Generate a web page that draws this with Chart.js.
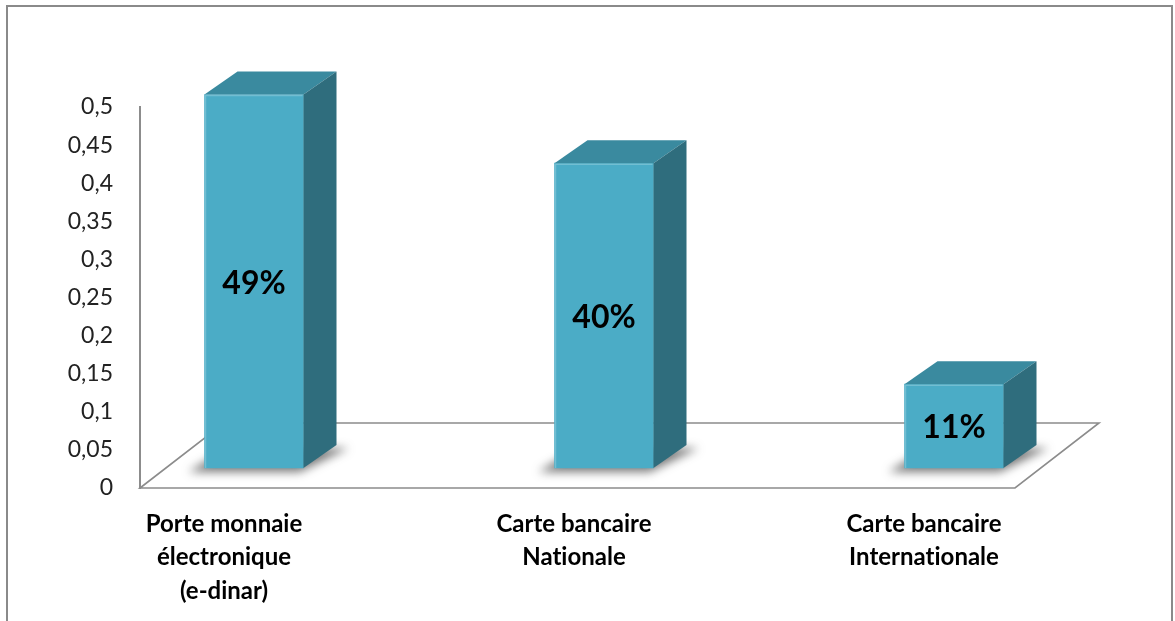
<!DOCTYPE html>
<html lang="fr">
<head>
<meta charset="utf-8">
<title>Moyens de paiement</title>
<script src="https://cdn.jsdelivr.net/npm/chart.js@4.4.0/dist/chart.umd.min.js"></script>
<style>
  html, body { margin: 0; padding: 0; background: #fff; }
  #cadre { position: relative; width: 1175px; height: 621px; }
</style>
</head>
<body>
<div id="cadre"><canvas id="paiementChart"></canvas></div>
<script>
// Données du graphique (\u200c évite la ligature « ti » de la police)
const moyens = [
    ['Porte monnaie', 'électronique', '(e-dinar)'],
    ['Carte bancaire', 'Nat\u200cionale'],
    ['Carte bancaire', 'Internat\u200cionale']
];
const parts = [0.49, 0.40, 0.11];
const pasY = 0.05;
const etiquettesY = ['0', '0,05', '0,1', '0,15', '0,2', '0,25', '0,3', '0,35', '0,4', '0,45', '0,5'];

// Effet 3D (style Excel)
const PROFONDEUR = { x: 33, y: -23 };   // épaisseur des barres
const DECALAGE = { x: 114, y: -20 };    // barres posées au milieu du sol
const SOL = { largeur: 875, dx: 84, dy: -65 };
const couleurs = {
    face: '#4bacc6',
    dessus: '#3a8a9f',
    cote: '#2f6d7d',
    traits: '#8c8c8c'
};

const POLICE = 'Lato, "Open Sans", sans-serif';

const cadreGraphique = {
    id: 'cadreGraphique',
    beforeDraw(chart) {
        const c = chart.ctx;
        c.save();
        c.strokeStyle = '#8a8a8a';
        c.lineWidth = 2;
        c.beginPath();
        c.moveTo(7, 640);
        c.lineTo(7, 6);
        c.lineTo(1172, 6);
        c.lineTo(1172, 640);
        c.stroke();
        c.restore();
    }
};

const barres3D = {
    id: 'barres3D',
    beforeDatasetsDraw(chart) {
        const c = chart.ctx;
        const x0 = chart.chartArea.left;
        const y0 = chart.scales.y.getPixelForValue(0);

        // le sol
        c.save();
        c.strokeStyle = couleurs.traits;
        c.lineWidth = 1.6;
        c.beginPath();
        c.moveTo(x0, y0);
        c.lineTo(x0 + SOL.dx, y0 + SOL.dy);
        c.lineTo(x0 + SOL.largeur + SOL.dx, y0 + SOL.dy);
        c.lineTo(x0 + SOL.largeur, y0);
        c.closePath();
        c.stroke();
        c.restore();

        c.save();
        c.translate(DECALAGE.x, DECALAGE.y);

        // ombres portées sur le sol
        chart.getDatasetMeta(0).data.forEach(el => {
            const { x, base, width } = el.getProps(['x', 'base', 'width'], true);
            const g = x - width / 2, d = x + width / 2;
            c.save();
            c.filter = 'blur(5px)';
            c.fillStyle = 'rgba(50, 50, 50, 0.65)';
            c.beginPath();
            c.moveTo(g - 16, base + 4);
            c.lineTo(d - 4, base + 4);
            c.lineTo(d + PROFONDEUR.x + 12, base + PROFONDEUR.y + 3);
            c.lineTo(g + PROFONDEUR.x - 10, base + PROFONDEUR.y + 3);
            c.closePath();
            c.fill();
            c.restore();
        });
    },
    afterDatasetsDraw(chart) {
        const c = chart.ctx;
        chart.getDatasetMeta(0).data.forEach(el => {
            const { x, y, base, width } = el.getProps(['x', 'y', 'base', 'width'], true);
            const g = x - width / 2, d = x + width / 2;

            // dessus
            c.fillStyle = couleurs.dessus;
            c.beginPath();
            c.moveTo(g, y);
            c.lineTo(g + PROFONDEUR.x, y + PROFONDEUR.y);
            c.lineTo(d + PROFONDEUR.x, y + PROFONDEUR.y);
            c.lineTo(d, y);
            c.closePath();
            c.fill();

            // côté droit
            c.fillStyle = couleurs.cote;
            c.beginPath();
            c.moveTo(d, y);
            c.lineTo(d + PROFONDEUR.x, y + PROFONDEUR.y);
            c.lineTo(d + PROFONDEUR.x, base + PROFONDEUR.y);
            c.lineTo(d, base);
            c.closePath();
            c.fill();

            // léger reflet sur les arêtes avant
            c.strokeStyle = 'rgba(255, 255, 255, 0.22)';
            c.lineWidth = 1.5;
            c.beginPath();
            c.moveTo(g + 1, base);
            c.lineTo(g + 1, y + 1);
            c.lineTo(d - 1, y + 1);
            c.stroke();
        });
        c.restore();

        // pourcentages au centre de la face avant
        c.save();
        c.font = 'bold 32px ' + POLICE;
        c.fillStyle = '#000';
        c.textAlign = 'center';
        c.textBaseline = 'middle';
        chart.getDatasetMeta(0).data.forEach((el, i) => {
            const { x, y, base } = el.getProps(['x', 'y', 'base'], true);
            const texte = Math.round(parts[i] * 100) + '%';
            c.fillText(texte, x + DECALAGE.x, (y + base) / 2 + DECALAGE.y + 2);
        });
        c.restore();
    }
};

const ctx = document.getElementById('paiementChart').getContext('2d');

const paiementChart = new Chart(ctx, {
    type: 'bar',
    data: {
        labels: moyens,
        datasets: [{
            data: parts,
            backgroundColor: couleurs.face,
            borderWidth: 0,
            barThickness: 99,
            clip: false
        }]
    },
    options: {
        responsive: true,
        maintainAspectRatio: false,
        animation: false,
        events: [],
        layout: {
            padding: { top: 107, right: 335, bottom: 0, left: 0 }
        },
        plugins: {
            legend: { display: false },
            tooltip: { enabled: false }
        },
        scales: {
            x: {
                offset: false,
                grid: { display: false, drawTicks: false },
                border: { display: false },
                afterFit: scale => { scale.height = 133; },
                ticks: {
                    autoSkip: false,
                    maxRotation: 0,
                    padding: 20,
                    labelOffset: 84,
                    color: '#000',
                    font: { family: POLICE, size: 24, weight: 'bold', lineHeight: 1.38 }
                }
            },
            y: {
                min: 0,
                max: 0.5,
                grid: { display: false, drawTicks: false },
                border: { display: true, color: '#8c8c8c', width: 2 },
                afterFit: scale => { scale.width = 140; },
                ticks: {
                    stepSize: pasY,
                    padding: 27,
                    color: '#222',
                    font: { family: POLICE, size: 23 },
                    callback: v => etiquettesY[Math.round(v / pasY)]
                }
            }
        }
    },
    plugins: [cadreGraphique, barres3D]
});
</script>
</body>
</html>
